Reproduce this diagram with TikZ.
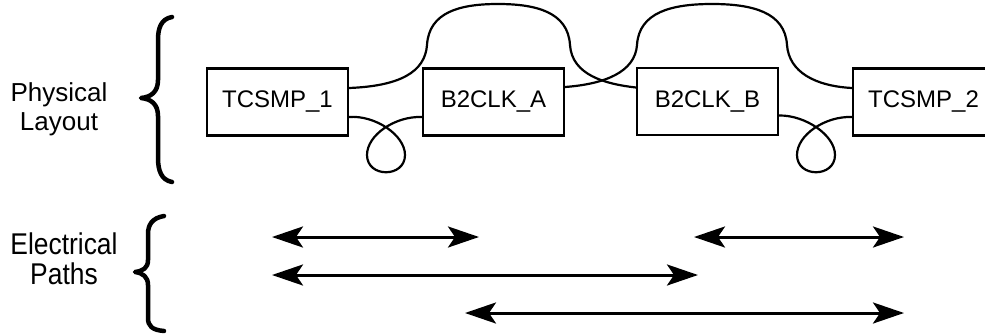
\documentclass[tikz,border=0pt]{standalone}
\usepackage{fontspec}
\setmainfont{Liberation Sans}
\newfontfamily\narrowsans[FakeStretch=0.88]{Liberation Sans}
\usetikzlibrary{arrows.meta}
\begin{document}
\begin{tikzpicture}[x=1pt,y=-1pt,
  box/.style={draw, line width=2.2pt, minimum width=141pt, minimum height=67pt, inner sep=0pt, font=\fontsize{24}{28}\selectfont},
  wire/.style={line width=2.2pt},
  epath/.style={line width=3pt, {Stealth[length=31pt,width=21pt,inset=7pt]}-{Stealth[length=31pt,width=21pt,inset=7pt]}},
  sidelabel/.style={align=center, inner sep=0pt},
  bracestroke/.style={line width=4.5pt, line cap=round, line join=round}
]
\useasboundingbox (0,0) rectangle (985,335);
\clip (0,0) rectangle (985,335);
\fill[white] (0,0) rectangle (985,335);

% side labels
\node[sidelabel, font=\fontsize{26}{29}\selectfont] (phys) at (59,109) {Physical\\Layout};
\node[sidelabel, font=\narrowsans\fontsize{30}{30}\selectfont] (elec) at (64,259) {Electrical\\Paths};

% braces
\draw[bracestroke] (172,17) .. controls (161,19) and (158,28) .. (158,40) -- (158,80)
  .. controls (158,92) and (151,97) .. (141,98) .. controls (151,99) and (158,104) .. (158,116)
  -- (158,158) .. controls (158,170) and (161,180) .. (172,182);
\draw[bracestroke] (164,216) .. controls (152,218) and (148,225) .. (148,234) -- (148,260)
  .. controls (148,268) and (143,271) .. (135,272) .. controls (143,273) and (148,277) .. (148,285)
  -- (148,318) .. controls (148,326) and (152,330) .. (164,331);

% boxes
\node[box] (t1) at (277.5,102) {TCSMP\_1};
\node[box] (ba) at (493.5,102) {B2CLK\_A};
\node[box] (bb) at (707.5,101.5) {B2CLK\_B};
\node[box] (t2) at (923.5,102) {TCSMP\_2};

% upper arcs
\draw[wire] ([yshift=14pt]t1.east) .. controls (400,86) and (425,72) .. (427,45)
  .. controls (429,12) and (460,4) .. (498,4) .. controls (536,4) and (568,12) .. (570,45)
  .. controls (572,75) and (605,84) .. ([yshift=14pt]bb.west);
\draw[wire] ([yshift=15pt]ba.east) .. controls (605,84) and (635,72) .. (637,45)
  .. controls (639,12) and (672,4) .. (712,4) .. controls (752,4) and (785,12) .. (787,45)
  .. controls (789,72) and (815,86) .. ([yshift=14pt]t2.west);

% lower loops
\draw[wire] ([yshift=-15pt]t1.east) .. controls (375,115) and (405,135) .. (405,155)
  .. controls (405,178) and (367,178) .. (367,155)
  .. controls (367,135) and (395,116) .. ([yshift=-15pt]ba.west);
\draw[wire] ([yshift=-14pt]bb.east) .. controls (805,115) and (835,135) .. (835,155)
  .. controls (835,178) and (797,178) .. (797,155)
  .. controls (797,135) and (825,116) .. ([yshift=-15pt]t2.west);

% electrical paths
\coordinate (a1l) at (272,237);
\coordinate (a1r) at (479,237);
\coordinate (a2l) at (694,237);
\coordinate (a2r) at (904,237);
\coordinate (a3l) at (272,275);
\coordinate (a3r) at (698,275);
\coordinate (a4l) at (465,313);
\coordinate (a4r) at (904,313);
\draw[epath] (a1l) -- (a1r);
\draw[epath] (a2l) -- (a2r);
\draw[epath] (a3l) -- (a3r);
\draw[epath] (a4l) -- (a4r);
\end{tikzpicture}
\end{document}
